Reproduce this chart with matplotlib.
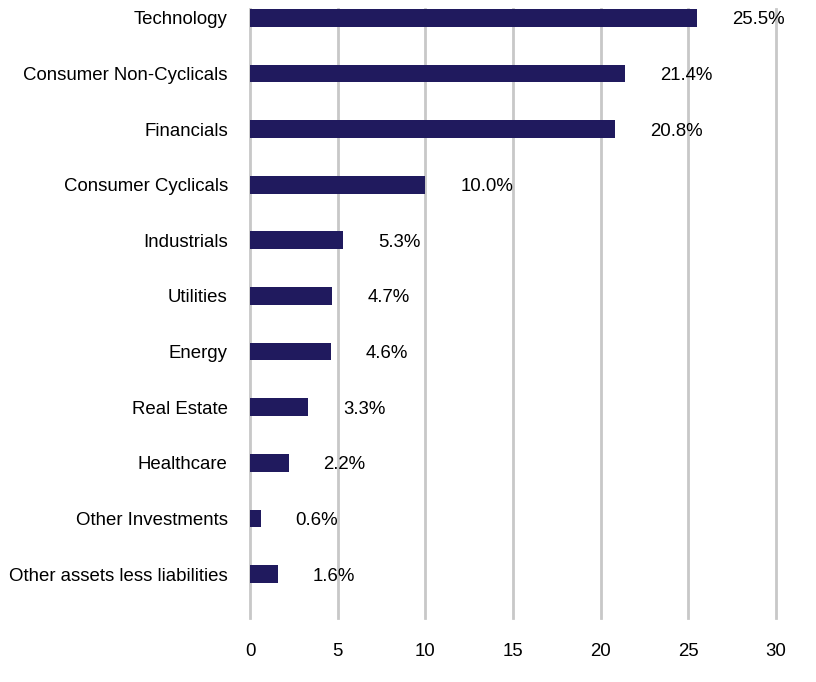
import numpy as np
import matplotlib.pyplot as plt
from matplotlib.transforms import offset_copy

plt.rcParams['font.family'] = ['Liberation Sans', 'DejaVu Sans']

sectors = ["Technology", "Consumer Non-Cyclicals", "Financials", "Consumer Cyclicals",
           "Industrials", "Utilities", "Energy", "Real Estate", "Healthcare",
           "Other Investments", "Other assets less liabilities"]
weights = [25.5, 21.4, 20.8, 10.0, 5.3, 4.7, 4.6, 3.3, 2.2, 0.6, 1.6]
xticks = [0, 5, 10, 15, 20, 25, 30]

fig = plt.figure(figsize=(8.16, 6.82), dpi=100)
ax = fig.add_axes([250/816, 1-618/682, 526/816, 609/682])

y = np.arange(len(sectors))
ax.barh(y, weights, height=0.32, color="#201a5e", zorder=3)

trans = offset_copy(ax.transData, fig=fig, x=35, y=0, units='dots')
for yi, w in zip(y, weights):
    ax.text(w, yi, f"{w:.1f}%", transform=trans, ha="left", va="center_baseline",
            fontsize=13.4, color="black")

ax.set_xlim(0, 30)
ax.set_ylim(10.79, -0.16)
ax.set_xticks(xticks)
ax.set_xticklabels([str(t) for t in xticks])
ax.set_yticks(y)
ax.set_yticklabels(sectors)
ax.tick_params(axis="both", length=0, labelsize=13.4)
ax.tick_params(axis="x", pad=18)
ax.tick_params(axis="y", pad=16)
ax.grid(axis="x", color="#c8c8c8", linewidth=2, zorder=0)
for gl in ax.get_xgridlines():
    gl.set_clip_on(False)
for s in ax.spines.values():
    s.set_visible(False)

fig.savefig("out.png", dpi=100)
